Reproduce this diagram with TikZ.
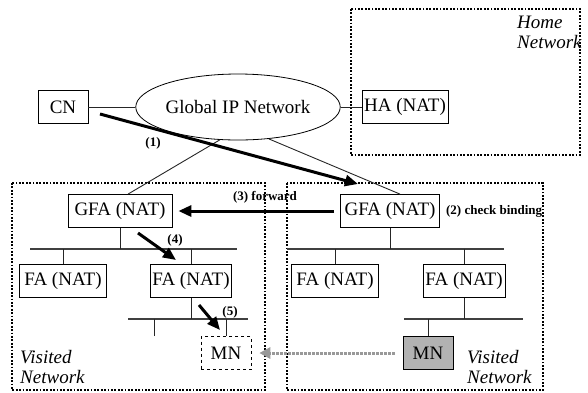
\documentclass[tikz,border=0pt]{standalone}
\usepackage{fontspec}
\setmainfont{Liberation Serif}
\usetikzlibrary{shapes.geometric,arrows.meta,positioning}

\tikzset{
  nodebox/.style={draw, line width=0.8pt, fill=white, inner sep=2pt,
    minimum height=33pt, font=\fontsize{19}{21}\selectfont},
  netarea/.style={line width=1.8pt, dash pattern=on 1.8pt off 1.6pt},
  bus/.style={line width=1.4pt, draw=black!75},
  link/.style={line width=0.9pt, draw=black!85},
  flow/.style={line width=3pt, -{Triangle[length=13pt,width=11pt]}},
  moveflow/.style={line width=3pt, draw=black!40, dash pattern=on 2.5pt off 1.5pt,
    -{Triangle[length=11pt,width=11pt,fill=black!40]}},
  steplabel/.style={font=\bfseries\fontsize{13}{14}\selectfont, inner sep=1pt},
  areatext/.style={font=\itshape\fontsize{19}{20}\selectfont, align=left, inner sep=0pt}
}

\begin{document}
\begin{tikzpicture}[x=1pt,y=-1pt]
\useasboundingbox (0,0) rectangle (588,392);

% network areas
\draw[netarea] (351,9) rectangle (580,155);
\draw[netarea] (12,183) rectangle (265,390);
\draw[netarea] (287,183) rectangle (543,390);
\node[areatext, anchor=north west] (homeLbl) at (517,16) {Home\\Network};
\node[areatext, anchor=north west] (visLbl) at (20,350) {Visited\\Network};
\node[areatext, anchor=north west] (visRLbl) at (467,350) {Visited\\Network};

% core
\node[nodebox, minimum width=50pt] (cn) at (63,107) {CN};
\node[draw, ellipse, line width=0.8pt, minimum width=167pt, minimum height=66pt,
  inner sep=0pt, font=\fontsize{19}{21}\selectfont] (ipnet) at (238,107) {Global IP Network};
\node[nodebox, minimum width=84pt] (ha) at (405,107) {HA (NAT)};
\draw[link] (cn) -- (ipnet);
\draw[link] (ipnet) -- (ha);

% foreign agents
\node[nodebox, minimum width=104pt] (gfaL) at (120,211) {GFA (NAT)};
\node[nodebox, minimum width=99pt] (gfaR) at (390,211) {GFA (NAT)};
\draw[link] (ipnet.241) -- ([xshift=8pt]gfaL.north);
\draw[link] (ipnet.314) -- ([xshift=10pt]gfaR.north);

\node[nodebox, minimum width=87pt] (faA) at (63,281) {FA (NAT)};
\node[nodebox, minimum width=81pt] (faB) at (191,281) {FA (NAT)};
\node[nodebox, minimum width=87pt] (faC) at (335,281) {FA (NAT)};
\node[nodebox, minimum width=82pt] (faD) at (464,281) {FA (NAT)};

\node[nodebox, dashed, line width=0.6pt, minimum width=50pt] (mnOld) at (226,353) {MN};
\node[nodebox, fill=black!30, minimum width=50pt] (mnNew) at (428,353) {MN};

% buses
\coordinate (busAw) at (30,249);  \coordinate (busAe) at (237,249);
\coordinate (busBw) at (128,319); \coordinate (busBe) at (248,319);
\coordinate (busCw) at (287,249); \coordinate (busCe) at (504,249);
\coordinate (busDw) at (404,319); \coordinate (busDe) at (523,319);
\coordinate (stubL) at (154,336);
\draw[bus] (busAw) -- (busAe);
\draw[bus] (busBw) -- (busBe);
\draw[bus] (busCw) -- (busCe);
\draw[bus] (busDw) -- (busDe);
\draw[link] (gfaL.south) -- (gfaL.south |- busAw);
\draw[link] (faA.north) -- (faA.north |- busAw);
\draw[link] (faB.north) -- (faB.north |- busAw);
\draw[link] (faB.south) -- (faB.south |- busBw);
\draw[link] (stubL) -- (stubL |- busBw);
\draw[link] (mnOld.north) -- (mnOld.north |- busBw);
\draw[link] (gfaR.south) -- (gfaR.south |- busCw);
\draw[link] (faC.north) -- (faC.north |- busCw);
\draw[link] (faD.north) -- (faD.north |- busCw);
\draw[link] (faD.south) -- (faD.south |- busDw);
\draw[link] (mnNew.north) -- (mnNew.north |- busDw);

% message flow
\coordinate (flowA) at (100,114); \coordinate (flowAend) at (358,184);
\coordinate (flowB) at (138,233); \coordinate (flowBend) at (176,260);
\coordinate (flowC) at (199,305); \coordinate (flowCend) at (220,330);
\draw[flow] (flowA) -- (flowAend);
\draw[flow, shorten <=6pt, shorten >=6pt] (gfaR.west) -- (gfaL.east);
\draw[flow] (flowB) -- (flowBend);
\draw[flow] (flowC) -- (flowCend);
\draw[moveflow, shorten <=8pt, shorten >=8pt] (mnNew.west) -- (mnOld.east);

\node[steplabel] (lab1) at (153,143) {(1)};
\node[steplabel, right=5pt of gfaR] (lab2) {(2) check binding};
\node[steplabel] (lab3) at (265,197) {(3) forward};
\node[steplabel] (lab4) at (175,240) {(4)};
\node[steplabel] (lab5) at (230,312) {(5)};
\end{tikzpicture}
\end{document}
